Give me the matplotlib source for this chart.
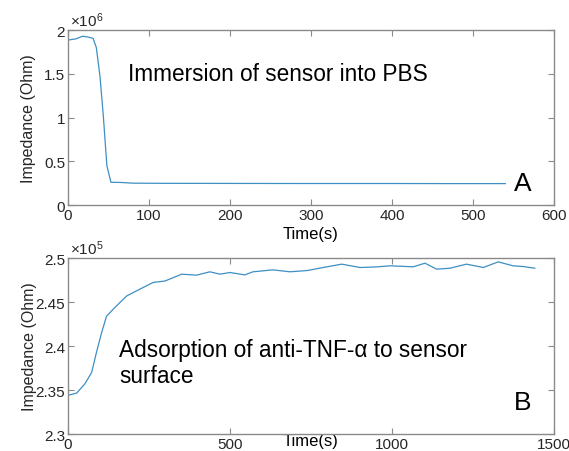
import numpy as np
import matplotlib.pyplot as plt
from matplotlib.ticker import FuncFormatter

plt.rcParams['font.family'] = ['Liberation Sans', 'DejaVu Sans']
plt.rcParams['mathtext.fontset'] = 'custom'
plt.rcParams['mathtext.rm'] = 'Liberation Sans'
plt.rcParams['mathtext.it'] = 'Liberation Sans'

# panel A: immersion in PBS
t_a = [0, 10, 18, 25, 31, 35, 39.5, 43.6, 48, 53, 65, 80, 120, 200, 300, 400, 470, 540]
z_a = [1.886e6, 1.90e6, 1.93e6, 1.92e6, 1.905e6, 1.80e6, 1.47e6, 1.02e6, 0.45e6, 0.26e6,
       0.258e6, 0.25e6, 0.248e6, 0.247e6, 0.246e6, 0.246e6, 0.245e6, 0.245e6]

# panel B: adsorption of anti-TNF-alpha
t_b = [0, 27, 52, 73, 88, 104, 119, 145, 181, 222, 263, 299, 351, 397, 438, 469, 500, 546,
       571, 633, 685, 740, 788, 845, 901, 950, 994, 1066, 1102, 1138, 1179, 1230, 1282,
       1328, 1374, 1405, 1441]
z_b = [2.344, 2.3466, 2.357, 2.370, 2.393, 2.4156, 2.434, 2.444, 2.457, 2.4648, 2.4724,
       2.474, 2.4818, 2.4807, 2.4845, 2.4818, 2.4837, 2.481, 2.4845, 2.4867, 2.4845,
       2.4860, 2.4894, 2.4932, 2.4894, 2.4900, 2.4913, 2.4902, 2.4943, 2.4875, 2.4886,
       2.4932, 2.4894, 2.4958, 2.4913, 2.4905, 2.4886]
z_b = [v * 1e5 for v in z_b]

line_col = '#3d8fc4'
spine_col = '#8a8a8a'
txt_col = '#262626'

fig = plt.figure(figsize=(5.69, 4.52), dpi=100)
ax1 = fig.add_axes([0.1195, 0.5442, 0.854, 0.387])
ax2 = fig.add_axes([0.1195, 0.0376, 0.854, 0.389])


def style(ax):
    for s in ax.spines.values():
        s.set_color(spine_col)
        s.set_linewidth(1.0)
    ax.tick_params(direction='in', top=True, right=True, length=4, width=0.8,
                   color=spine_col, labelcolor=txt_col, labelsize=11, pad=2)


ax1.plot(t_a, z_a, color=line_col, lw=0.9)
ax1.set_xlim(0, 600)
ax1.set_ylim(0, 2e6)
ax1.set_xticks([0, 100, 200, 300, 400, 500, 600])
ax1.set_yticks([0, 0.5e6, 1e6, 1.5e6, 2e6])
ax1.yaxis.set_major_formatter(FuncFormatter(lambda v, p: f"{v/1e6:g}"))
style(ax1)
ax1.set_xlabel("Time(s)", fontsize=12, color='black', labelpad=3)
ax1.set_ylabel("Impedance (Ohm)", fontsize=11.5, color=txt_col, labelpad=6)
ax1.text(0.005, 1.005, r"$\times10^6$", transform=ax1.transAxes, fontsize=11,
         color=txt_col, ha='left', va='bottom')
ax1.text(0.123, 0.75, "Immersion of sensor into PBS", transform=ax1.transAxes,
         fontsize=16.3, color='black', va='center')
ax1.text(0.918, 0.125, "A", transform=ax1.transAxes, fontsize=19,
         color='black', va='center')

ax2.plot(t_b, z_b, color=line_col, lw=0.9)
ax2.set_xlim(0, 1500)
ax2.set_ylim(2.3e5, 2.5e5)
ax2.set_xticks([0, 500, 1000, 1500])
ax2.set_yticks([2.3e5, 2.35e5, 2.4e5, 2.45e5, 2.5e5])
ax2.yaxis.set_major_formatter(FuncFormatter(lambda v, p: f"{v/1e5:g}"))
style(ax2)
ax2.set_xlabel("Time(s)", fontsize=12, color='black', labelpad=-13)
ax2.set_ylabel("Impedance (Ohm)", fontsize=11.5, color=txt_col, labelpad=-1)
ax2.text(0.005, 1.005, r"$\times10^5$", transform=ax2.transAxes, fontsize=11,
         color=txt_col, ha='left', va='bottom')
ax2.text(0.105, 0.405, "Adsorption of anti-TNF-α to sensor\nsurface", transform=ax2.transAxes,
         fontsize=16.3, color='black', va='center', linespacing=1.15)
ax2.text(0.918, 0.18, "B", transform=ax2.transAxes, fontsize=19,
         color='black', va='center')

fig.savefig("out.png", dpi=100)
